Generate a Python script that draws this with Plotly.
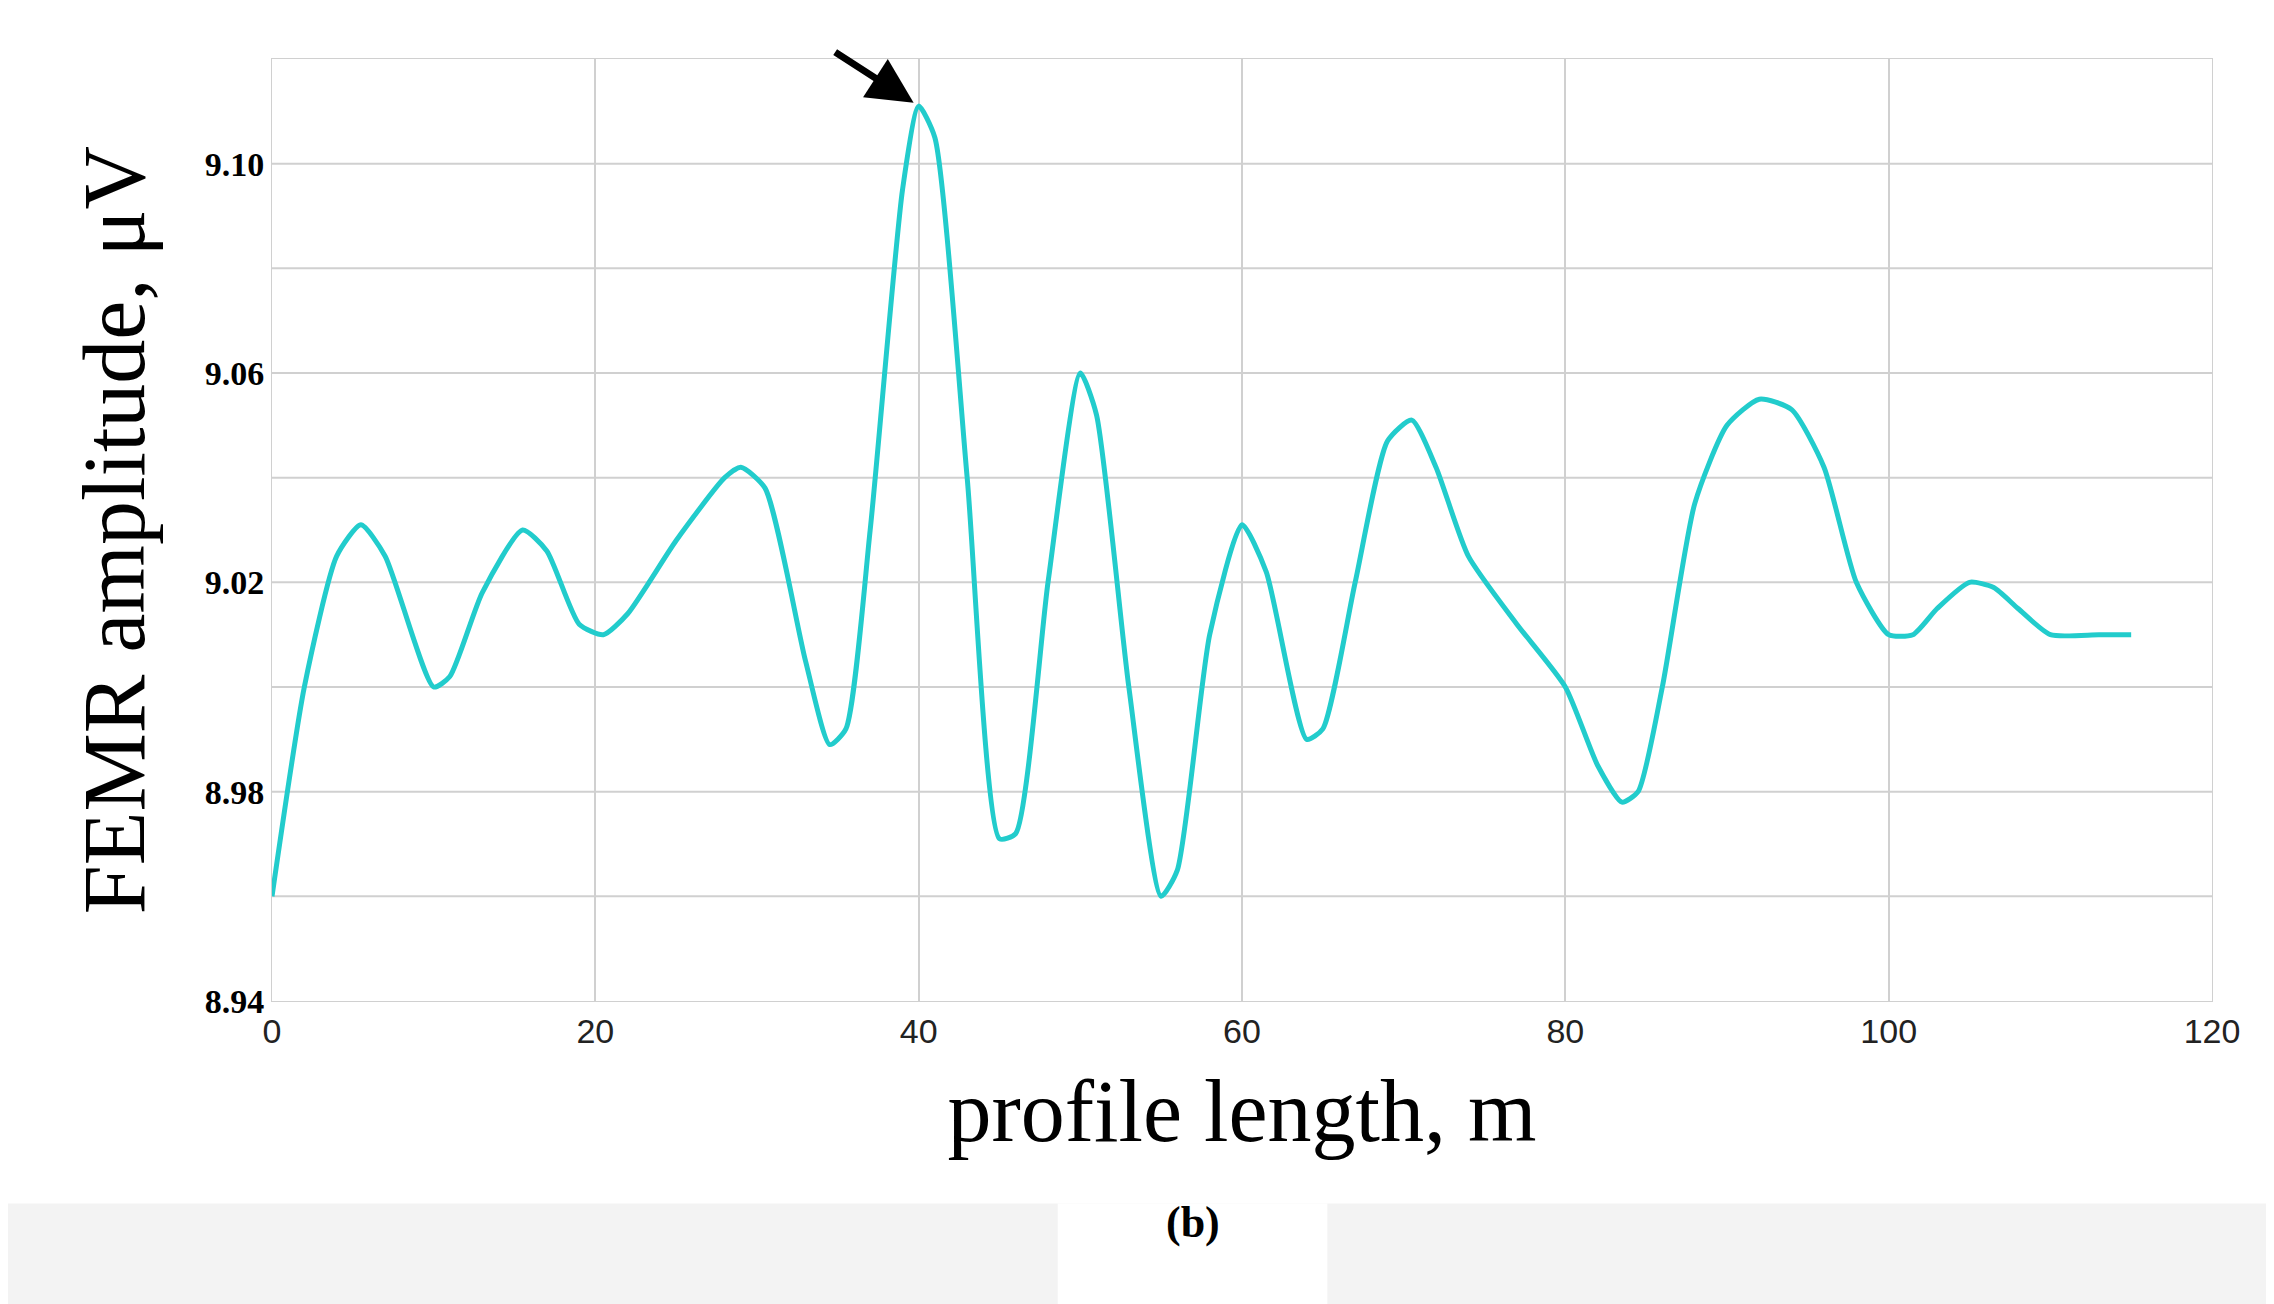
import plotly.graph_objects as go

x_vals = [0, 2, 4, 5.5, 7, 10, 11, 13, 15.5, 17, 19, 20.5, 22, 25, 28, 29, 30.5, 33, 34.5, 35.5, 37, 39, 40, 41, 43, 45, 46, 48, 50, 51, 53, 55, 56, 58, 60, 61.5, 64, 65, 67, 69, 70.5, 72, 74, 77, 80, 82, 83.5, 84.5, 86, 88, 90, 92, 94, 96, 98, 100, 101.5, 103, 105, 106.5, 108, 110, 113, 115]
y_vals = [8.96, 9.00, 9.025, 9.031, 9.025, 9.000, 9.002, 9.018, 9.030, 9.026, 9.012, 9.010, 9.014, 9.028, 9.040, 9.042, 9.038, 9.005, 8.989, 8.992, 9.030, 9.095, 9.111, 9.105, 9.040, 8.971, 8.972, 9.020, 9.060, 9.052, 9.000, 8.960, 8.965, 9.010, 9.031, 9.022, 8.990, 8.992, 9.020, 9.047, 9.051, 9.042, 9.025, 9.012, 9.000, 8.985, 8.978, 8.980, 9.000, 9.035, 9.050, 9.055, 9.053, 9.042, 9.020, 9.010, 9.010, 9.015, 9.020, 9.019, 9.015, 9.010, 9.010, 9.010]
y_ticks = [8.94, 8.98, 9.02, 9.06, 9.10]
x_ticks = [0, 20, 40, 60, 80, 100, 120]

fig = go.Figure(go.Scatter(x=x_vals, y=y_vals, mode="lines",
                           line=dict(color="#22cccc", width=5, shape="spline", smoothing=0.6)))
fig.update_layout(
    width=2274, height=1304, paper_bgcolor="white", plot_bgcolor="white",
    margin=dict(l=264, r=70, t=51, b=311), showlegend=False,
    font=dict(family="Liberation Serif", color="black"),
    xaxis=dict(range=[0, 120], tickvals=x_ticks, showgrid=True, gridcolor="#d0d0d0", gridwidth=2,
               zeroline=False, showline=True, linecolor="#d0d0d0", mirror=True,
               tickfont=dict(family="Liberation Sans", size=34, color="#222"),
               title=dict(text="profile length, m", font=dict(size=88), standoff=30)),
    yaxis=dict(range=[8.94, 9.12], tickvals=y_ticks, ticktext=[f"<b>{v:.2f}</b>" for v in y_ticks],
               showgrid=False, zeroline=False, showline=True, linecolor="#d0d0d0", mirror=True,
               tickfont=dict(size=34), ticks="", ticklen=0,
               title=dict(text="FEMR amplitude, μV", font=dict(size=88), standoff=30)),
)
for g in [8.96, 8.98, 9.00, 9.02, 9.04, 9.06, 9.08, 9.10]:
    fig.add_shape(type="line", xref="paper", x0=0, x1=1, y0=g, y1=g, line=dict(color="#d0d0d0", width=2), layer="below")
fig.add_shape(type="rect", xref="paper", yref="paper", x0=-0.15, x1=1.05, y0=-0.215, y1=-0.35,
              fillcolor="#f3f3f3", line_width=0, layer="below")
fig.add_shape(type="rect", xref="paper", yref="paper", x0=0.405, x1=0.544, y0=-0.215, y1=-0.35,
              fillcolor="white", line_width=0, layer="below")
fig.add_annotation(xref="paper", yref="paper", x=0.4745, y=-0.263, text="<b>(b)</b>", showarrow=False,
                   font=dict(size=44))
fig.add_annotation(x=40, y=9.111, ax=-85, ay=-55, text="", showarrow=True, arrowhead=2,
                   arrowsize=1.3, arrowwidth=7, arrowcolor="black", standoff=6)
fig.write_html("out.html")
